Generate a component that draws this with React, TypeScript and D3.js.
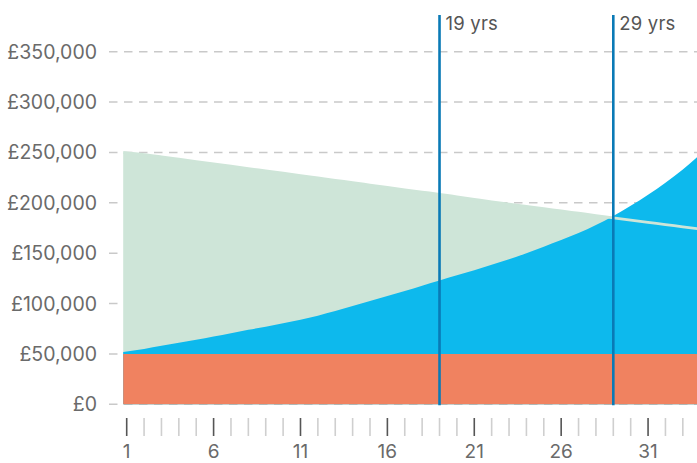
import React from 'react';
import * as d3 from 'd3';

const years = [1, 2, 3, 4, 5, 6, 7, 8, 9, 10, 11, 12, 13, 14, 15, 16, 17, 18, 19, 20, 21, 22, 23, 24, 25, 26, 27, 28, 29, 30, 31, 32, 33, 34];
const baseValues = [50000, 50000, 50000, 50000, 50000, 50000, 50000, 50000, 50000, 50000, 50000, 50000, 50000, 50000, 50000, 50000, 50000, 50000, 50000, 50000, 50000, 50000, 50000, 50000, 50000, 50000, 50000, 50000, 50000, 50000, 50000, 50000, 50000, 50000];
const growthValues = [52000, 55000, 58000, 61000, 64000, 67300, 70600, 74000, 77000, 80500, 84000, 88000, 92500, 97500, 102500, 107500, 112500, 117800, 123000, 128000, 133000, 138500, 144000, 150000, 156500, 163000, 170000, 178000, 187000, 197000, 208000, 220000, 233000, 248000];
const targetValues = [250000, 247800, 245600, 243300, 241000, 238700, 236400, 234000, 231700, 229400, 227000, 224700, 222400, 220000, 217700, 215400, 213000, 210700, 208500, 206000, 203500, 201000, 198800, 196500, 194200, 192000, 189700, 187400, 185000, 182800, 180600, 178400, 176200, 174000];
const yTicks = [0, 50000, 100000, 150000, 200000, 250000, 300000, 350000];
const xLabelYears = [1, 6, 11, 16, 21, 26, 31];
const markerYears = [19, 29];
const markerLabels = ['19 yrs', '29 yrs'];

const W = 697;
const H = 463;
const FONT = 'Inter, Roboto, "Noto Sans", sans-serif';

export default function App() {
  const x = d3.scaleLinear().domain([1, 34]).range([126.7, 700.2]);
  const y = d3.scaleLinear().domain([0, 350000]).range([404.3, 51.7]);
  const bleed = 3.5;
  const px = (i: number) => (i === 0 ? x(years[0]) - bleed : x(years[i]));

  const areaOf = (vals: number[]) =>
    d3.area<number>().x((_, i) => px(i)).y0(y(0)).y1((d) => y(d)).curve(d3.curveMonotoneX)(vals) || '';
  const lineOf = (vals: number[]) =>
    d3.line<number>().x((_, i) => px(i)).y((d) => y(d)).curve(d3.curveMonotoneX)(vals) || '';

  const fmt = (v: number) => '£' + d3.format(',')(v);

  return (
    <svg
      width={W}
      height={H}
      style={{ position: 'absolute', left: 0, top: 0, overflow: 'hidden', background: '#fff' }}
      fontFamily={FONT}
    >
      {yTicks.map((t) => (
        <line
          key={'g' + t}
          x1={109}
          x2={W}
          y1={y(t)}
          y2={y(t)}
          stroke="#c9c9c9"
          strokeWidth={1.5}
          strokeDasharray="8.5,6.5"
        />
      ))}
      {yTicks.map((t) => (
        <text
          key={'l' + t}
          x={97}
          y={y(t)}
          dy="0.36em"
          textAnchor="end"
          fontSize={19.5}
          fill="#6a6a6a"
        >
          {fmt(t)}
        </text>
      ))}
      <path d={areaOf(targetValues)} fill="#cee5d8" />
      <path d={areaOf(growthValues)} fill="#0db9ed" />
      <path d={areaOf(baseValues)} fill="#f08260" />
      <path d={lineOf(targetValues)} fill="none" stroke="#cee5d8" strokeWidth={2.7} />
      {markerYears.map((m, i) => (
        <g key={'m' + m}>
          <line x1={x(m)} x2={x(m)} y1={15} y2={y(0) + 1} stroke="#0a7ab6" strokeWidth={2.6} />
          <text x={x(m) + 6} y={30} fontSize={18.5} fill="#555" letterSpacing={0.2}>
            {markerLabels[i]}
          </text>
        </g>
      ))}
      {years.map((yr) => {
        const major = xLabelYears.includes(yr);
        return (
          <line
            key={'t' + yr}
            x1={x(yr)}
            x2={x(yr)}
            y1={418}
            y2={436}
            stroke={major ? '#555' : '#cfcfcf'}
            strokeWidth={1.6}
          />
        );
      })}
      {xLabelYears.map((yr) => (
        <text key={'x' + yr} x={x(yr)} y={458} textAnchor="middle" fontSize={19} fill="#6a6a6a">
          {yr}
        </text>
      ))}
    </svg>
  );
}
